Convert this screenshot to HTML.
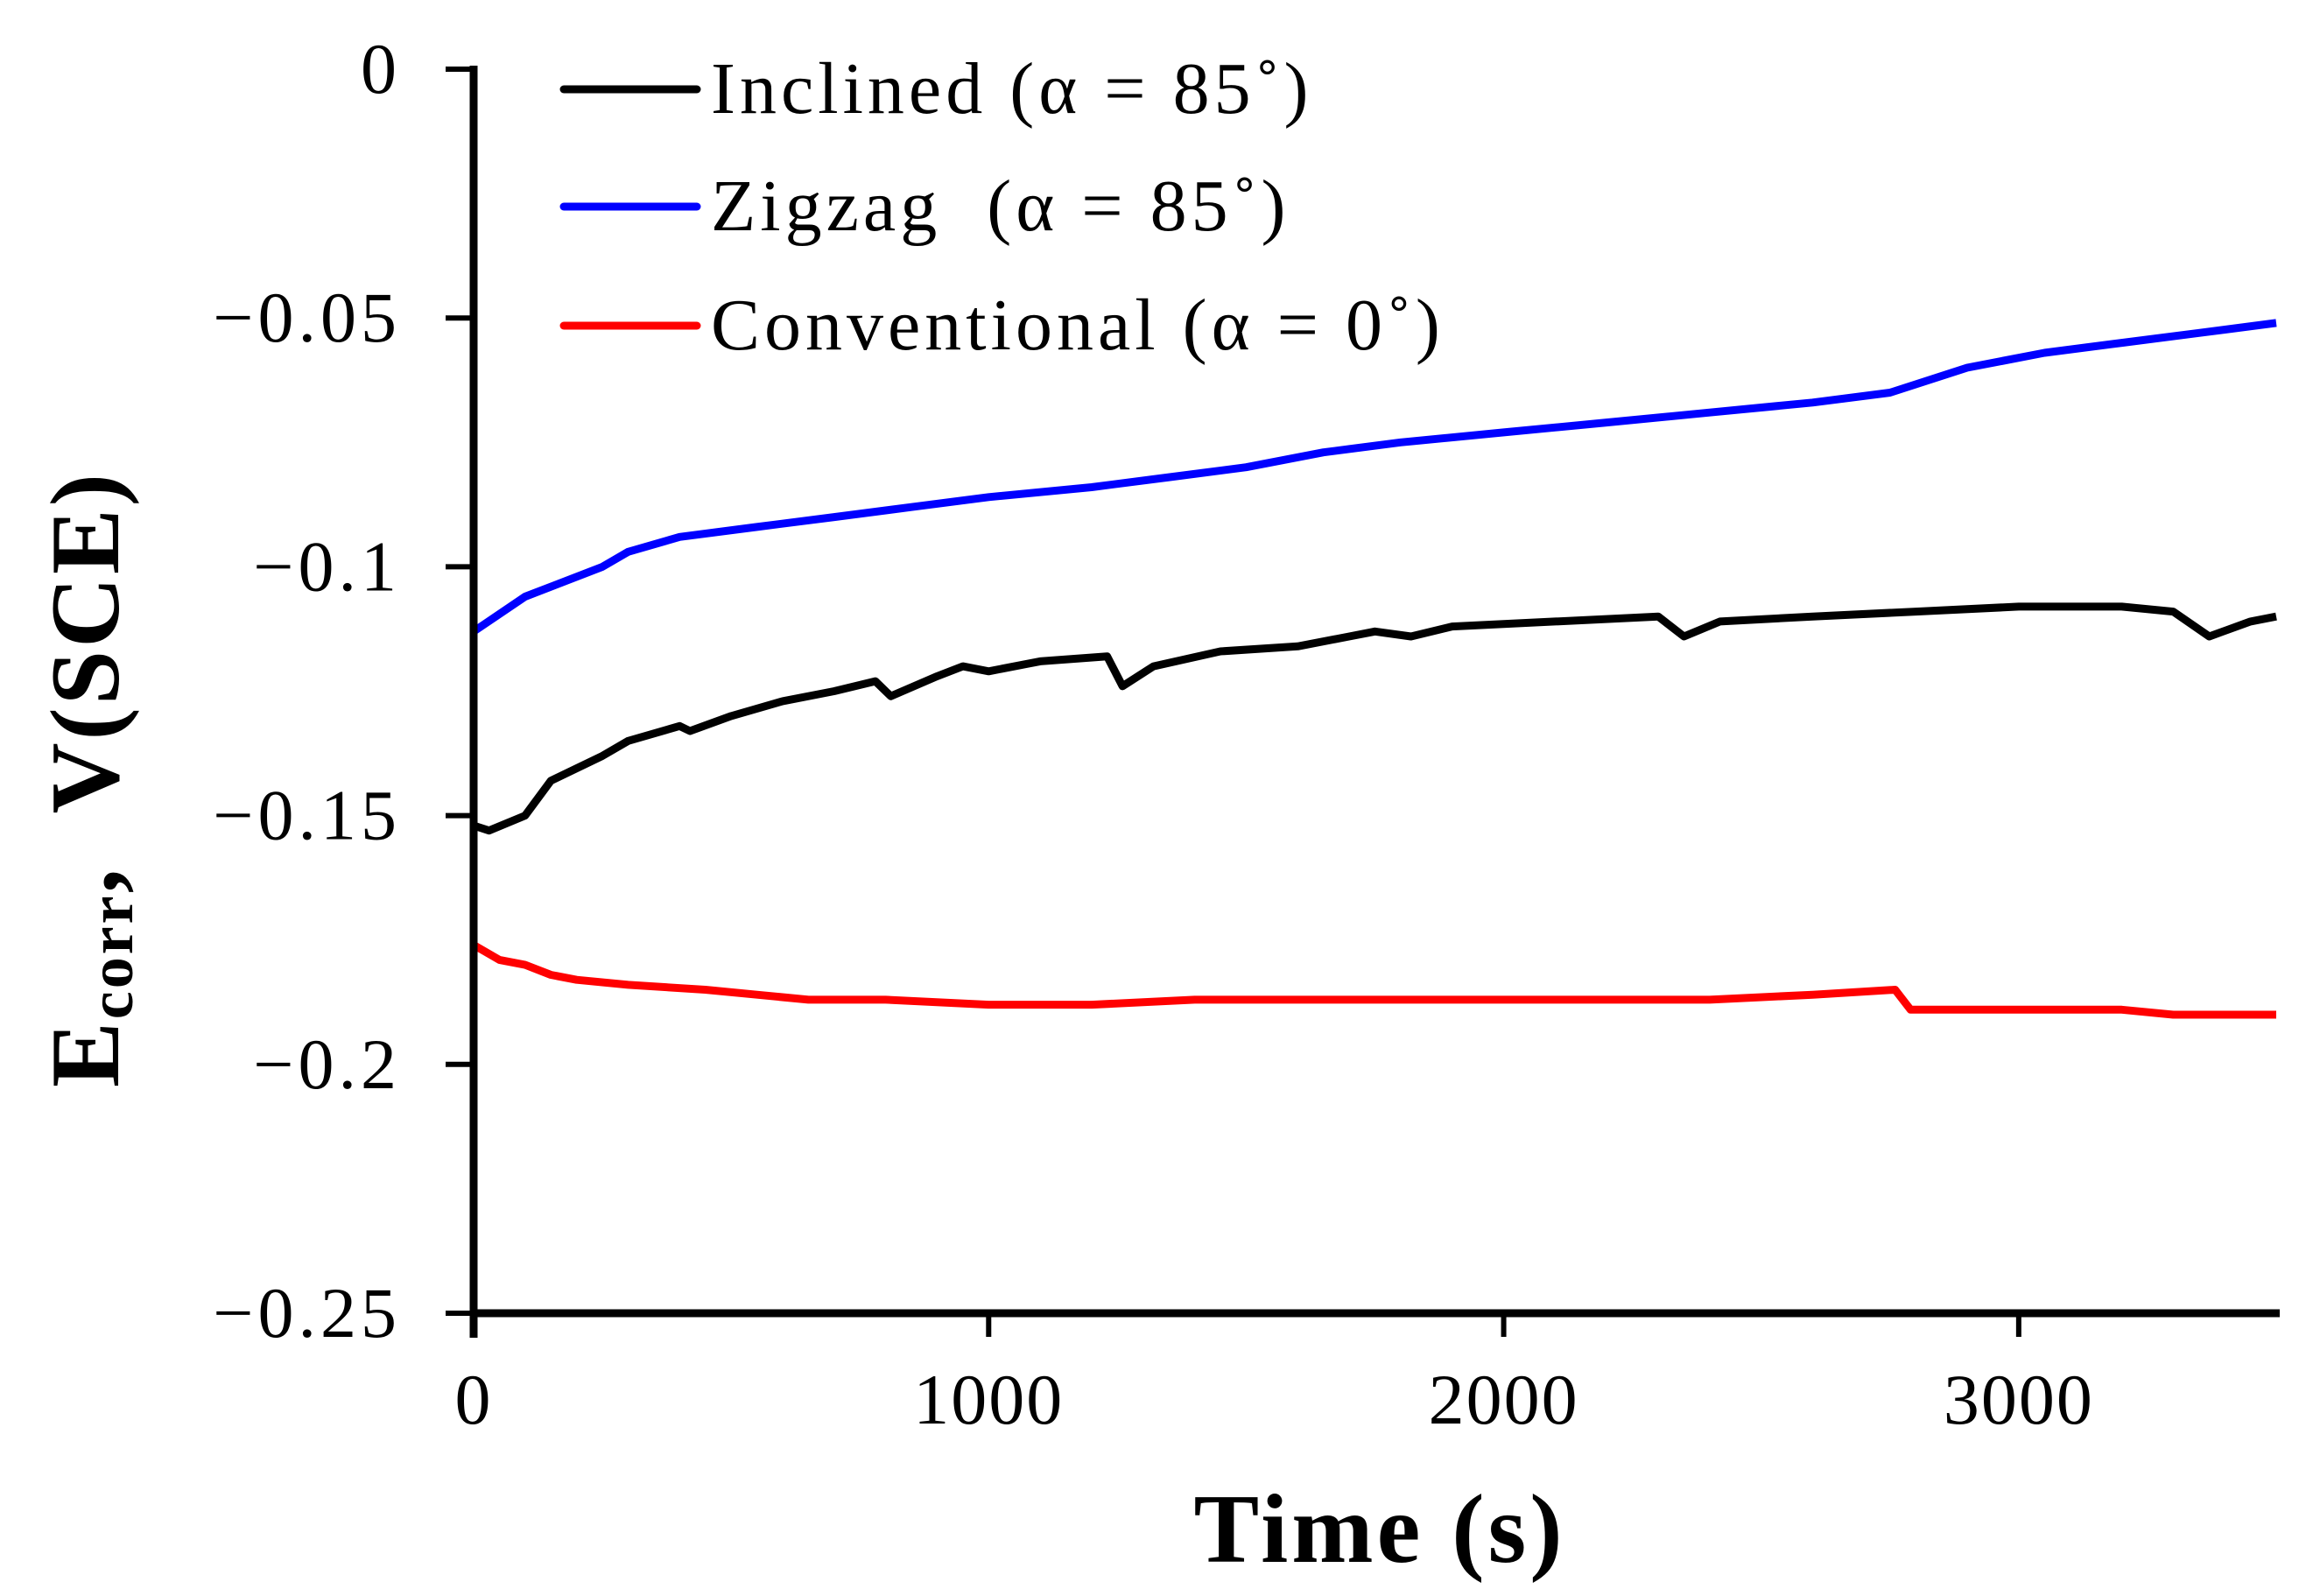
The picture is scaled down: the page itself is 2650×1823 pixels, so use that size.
<!DOCTYPE html>
<html><head><meta charset="utf-8"><style>
html,body{margin:0;padding:0;background:#fff;}
svg{display:block;font-family:"Liberation Serif",serif;}
text{white-space:pre;}
</style></head><body>
<svg id="chart" width="2650" height="1823" viewBox="0 0 2650 1823">
<g id="plot"></g>
</svg>
<script>
const xTicks=[0,1000,2000,3000];
const yTicks=[0,-0.05,-0.1,-0.15,-0.2,-0.25];
const yTickLabels=["0","\u22120.05","\u22120.1","\u22120.15","\u22120.2","\u22120.25"];
const seriesNames=["Inclined (\u03b1 = 85\u02da)","Zigzag  (\u03b1 = 85\u02da)","Conventional (\u03b1 = 0\u02da)"];
const seriesColors=["#000000","#0000ff","#ff0000"];
const inclinedT=[0,30,100,150,250,300,400,420,500,600,700,780,810,900,950,1000,1100,1230,1260,1320,1450,1600,1700,1750,1820,1900,2100,2300,2350,2420,2600,2800,3000,3200,3300,3370,3450,3500];
const inclinedV=[-0.152,-0.153,-0.150,-0.143,-0.138,-0.135,-0.132,-0.133,-0.130,-0.127,-0.125,-0.123,-0.126,-0.122,-0.120,-0.121,-0.119,-0.118,-0.124,-0.120,-0.117,-0.116,-0.114,-0.113,-0.114,-0.112,-0.111,-0.110,-0.114,-0.111,-0.110,-0.109,-0.108,-0.108,-0.109,-0.114,-0.111,-0.110];
const zigzagT=[0,100,250,300,400,550,700,850,1000,1200,1350,1500,1650,1800,2000,2200,2400,2600,2750,2900,3050,3200,3350,3500];
const zigzagV=[-0.113,-0.106,-0.100,-0.097,-0.094,-0.092,-0.090,-0.088,-0.086,-0.084,-0.082,-0.080,-0.077,-0.075,-0.073,-0.071,-0.069,-0.067,-0.065,-0.060,-0.057,-0.055,-0.053,-0.051];
const convT=[0,50,100,150,200,300,450,550,650,800,1000,1200,1400,1600,2000,2400,2600,2760,2790,3000,3200,3300,3500];
const convV=[-0.176,-0.179,-0.180,-0.182,-0.183,-0.184,-0.185,-0.186,-0.187,-0.187,-0.188,-0.188,-0.187,-0.187,-0.187,-0.187,-0.186,-0.185,-0.189,-0.189,-0.189,-0.190,-0.190];

const X0=541,X1=2600,TMAX=3500,Y0=79,Y1=1500;
const sx=t=>X0+(t/TMAX)*(X1-X0);
const sy=v=>Y0+(v/-0.25)*(Y1-Y0);
const NS="http://www.w3.org/2000/svg";
const g=document.getElementById('plot');
function mk(tag,attrs,parent){const e=document.createElementNS(NS,tag);for(const k in attrs)e.setAttribute(k,attrs[k]);(parent||g).appendChild(e);return e;}

const allT=[inclinedT,zigzagT,convT],allV=[inclinedV,zigzagV,convV],snames=["inclined-series","zigzag-series","conventional-series"];
for(let s=0;s<3;s++){
  const d=allT[s].map((t,i)=>(i?'L':'M')+sx(t).toFixed(1)+' '+sy(allV[s][i]).toFixed(1)).join(' ');
  const p=mk('path',{d:d,fill:'none',stroke:seriesColors[s],'stroke-width':9,'stroke-linejoin':'round'});
  
  
}
const ya=mk('line',{x1:X0,y1:Y0-4,x2:X0,y2:Y1+28,stroke:'#000','stroke-width':9});


const xa=mk('line',{x1:X0-4,y1:Y1,x2:X1+4,y2:Y1,stroke:'#000','stroke-width':9});


yTicks.forEach((v,i)=>{
  const tk=mk('line',{x1:X0-32,y1:sy(v),x2:X0,y2:sy(v),stroke:'#000','stroke-width':6});
  
  
  const t=mk('text',{x:458,y:sy(v)+27,'font-size':82,'letter-spacing':5,'text-anchor':'end',fill:'#000'});
  t.textContent=yTickLabels[i];
  
  
});
xTicks.forEach(v=>{
  const tk=mk('line',{x1:sx(v),y1:Y1,x2:sx(v),y2:Y1+27,stroke:'#000','stroke-width':6});
  
  
  const t=mk('text',{x:sx(v),y:1626,'font-size':82,'letter-spacing':2,'text-anchor':'middle',fill:'#000'});
  t.textContent=String(v);
  
  
});
const xt=mk('text',{x:1576,y:1784,'font-size':112,'letter-spacing':4,'font-weight':'bold','text-anchor':'middle',fill:'#000'});
xt.textContent='Time (s)';


const yt=mk('text',{x:0,y:0,'font-size':112,'letter-spacing':3,'font-weight':'bold','text-anchor':'middle',fill:'#000',transform:'translate(135,890) rotate(-90)'});


const t1=mk('tspan',{},yt);t1.textContent='E';
const t2=mk('tspan',{'font-size':72,dy:16},yt);t2.textContent='corr';
const t3=mk('tspan',{dy:-16},yt);t3.textContent=',  V(SCE)';
const ly=[102,236,372];
for(let s=0;s<3;s++){
  const l=mk('line',{x1:644,y1:ly[s],x2:796,y2:ly[s],stroke:seriesColors[s],'stroke-width':9,'stroke-linecap':'round'});
  
  
  const t=mk('text',{x:812,y:ly[s]+27,'font-size':84,'letter-spacing':5,fill:'#000'});
  t.textContent=seriesNames[s];
  
  
}
</script>
</body></html>
